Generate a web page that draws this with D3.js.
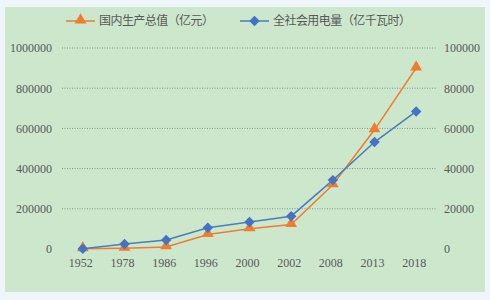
<!DOCTYPE html>
<html>
<head>
<meta charset="utf-8">
<script src="https://cdn.jsdelivr.net/npm/d3@7"></script>
<style>
  body { margin: 0; background: #eef6fc; }
  svg text { fill: #595959; }
  .num { font-family: "Liberation Serif", "Times New Roman", serif; font-size: 12px; }
  .legend { font-family: "Noto Sans CJK SC", sans-serif; font-size: 12px; }
</style>
</head>
<body>
<script>
// data
const years = ["1952", "1978", "1986", "1996", "2000", "2002", "2008", "2013", "2018"];
const gdp = [679, 3679, 10376, 71814, 100280, 121717, 319516, 592963, 900309];
const power = [73, 2498, 4507, 10570, 13466, 16331, 34268, 53223, 68449];
const leftTicks = [0, 200000, 400000, 600000, 800000, 1000000];
const rightTicks = [0, 20000, 40000, 60000, 80000, 100000];
const seriesNames = ["国内生产总值（亿元）", "全社会用电量（亿千瓦时）"];

const W = 490, H = 300;
const margin = { top: 48, right: 53, bottom: 51, left: 62 };
const width = W - margin.left - margin.right,
    height = H - margin.top - margin.bottom;

const root = d3.select("body").append("svg")
    .attr("width", W)
    .attr("height", H);

// panel
root.append("rect")
    .attr("x", 5).attr("y", 7)
    .attr("width", 480).attr("height", 285)
    .attr("fill", "#cde7cd");

const svg = root.append("g")
    .attr("transform", "translate(" + margin.left + "," + margin.top + ")");

const x = d3.scaleBand().domain(years).range([0, width]);
const yL = d3.scaleLinear().domain([0, 1000000]).range([height, 0]);
const yR = d3.scaleLinear().domain([0, 100000]).range([height, 0]);

// gridlines
svg.selectAll("line.grid")
    .data(leftTicks.slice(1))
    .enter().append("line")
    .attr("class", "grid")
    .attr("x1", 0).attr("x2", width)
    .attr("y1", d => yL(d)).attr("y2", d => yL(d))
    .attr("stroke", "#6f7f70")
    .attr("stroke-width", 0.8)
    .attr("stroke-dasharray", "1,1.5");

// axes
const leftAxis = svg.append("g")
    .attr("class", "num")
    .call(d3.axisLeft(yL).tickValues(leftTicks).tickSize(0).tickPadding(10).tickFormat(d3.format("d")));
const rightAxis = svg.append("g")
    .attr("class", "num")
    .attr("transform", "translate(" + width + ",0)")
    .call(d3.axisRight(yR).tickValues(rightTicks).tickSize(0).tickPadding(7).tickFormat(d3.format("d")));
const bottomAxis = svg.append("g")
    .attr("class", "num")
    .attr("transform", "translate(0," + height + ")")
    .call(d3.axisBottom(x).tickSize(0).tickPadding(9));

[leftAxis, rightAxis, bottomAxis].forEach(a => {
    a.select(".domain").remove();
    a.selectAll("text").attr("font-family", null).attr("font-size", null);
});
bottomAxis.selectAll("text").attr("dx", "-2");

// lines
const lineL = d3.line().x((d, i) => x(years[i]) + x.bandwidth() / 2).y(d => yL(d));
const lineR = d3.line().x((d, i) => x(years[i]) + x.bandwidth() / 2).y(d => yR(d));

const orange = "#ed7d31", blue = "#4472c4";

svg.append("path").datum(gdp)
    .attr("d", lineL)
    .attr("fill", "none")
    .attr("stroke", orange)
    .attr("stroke-width", 1.5);

svg.append("path").datum(power)
    .attr("d", lineR)
    .attr("fill", "none")
    .attr("stroke", "#4a7ebb")
    .attr("stroke-width", 1.5);

const tri = d3.symbol().type(d3.symbolTriangle).size(60);
const dia = d3.symbol().type(d3.symbolSquare).size(55);

svg.selectAll("path.tri")
    .data(gdp)
    .enter().append("path")
    .attr("class", "tri")
    .attr("d", tri)
    .attr("fill", orange)
    .attr("transform", (d, i) => "translate(" + (x(years[i]) + x.bandwidth() / 2) + "," + (yL(d) - 1) + ")");

svg.selectAll("path.dia")
    .data(power)
    .enter().append("path")
    .attr("class", "dia")
    .attr("d", dia)
    .attr("fill", blue)
    .attr("transform", (d, i) => "translate(" + (x(years[i]) + x.bandwidth() / 2) + "," + yR(d) + ") rotate(45)");

// legend
const legend = root.append("g").attr("class", "legend");
const items = [
    { name: seriesNames[0], color: orange, sym: tri, rot: 0, x: 66, len: 115 },
    { name: seriesNames[1], color: blue, sym: dia, rot: 45, x: 240, len: 138 }
];
items.forEach(it => {
    const g = legend.append("g").attr("transform", "translate(" + it.x + ",21)");
    g.append("line").attr("x1", 0).attr("x2", 29).attr("y1", 0).attr("y2", 0)
        .attr("stroke", it.color === blue ? "#4a7ebb" : orange).attr("stroke-width", 1.5);
    g.append("path").attr("d", it.sym)
        .attr("fill", it.color)
        .attr("transform", "translate(14.5," + (it.rot ? 0 : -1) + ") rotate(" + it.rot + ")");
    g.append("text").attr("x", 33).attr("y", 4)
        .attr("textLength", it.len).attr("lengthAdjust", "spacing")
        .text(it.name);
});
</script>
</body>
</html>
